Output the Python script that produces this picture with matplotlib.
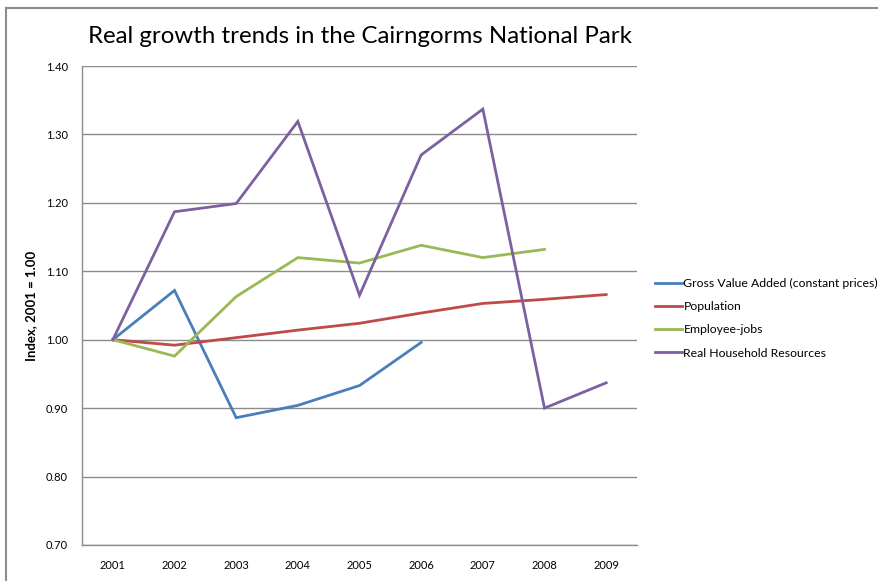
import matplotlib.pyplot as plt
from matplotlib.lines import Line2D

plt.rcParams['font.family'] = ['Lato', 'DejaVu Sans']

years = ['2001', '2002', '2003', '2004', '2005', '2006', '2007', '2008', '2009']
gva = [1.000, 1.072, 0.886, 0.904, 0.933, 0.996]
population = [1.000, 0.992, 1.003, 1.014, 1.024, 1.039, 1.053, 1.059, 1.066]
employee_jobs = [1.000, 0.976, 1.063, 1.120, 1.112, 1.138, 1.120, 1.132]
household = [1.000, 1.187, 1.199, 1.319, 1.065, 1.270, 1.337, 0.900, 0.937]

series = [
    ('Gross Value Added (constant prices)', gva, '#4A7EBB'),
    ('Population', population, '#BE4B48'),
    ('Employee-jobs', employee_jobs, '#98B954'),
    ('Real Household Resources', household, '#7D60A0'),
]

fig = plt.figure(figsize=(8.79, 5.81), dpi=100)
ax = fig.add_axes([0.0933, 0.062, 0.6314, 0.8244])

for label, vals, col in series:
    ax.plot(range(len(vals)), vals, color=col, lw=2.0, label=label,
            solid_joinstyle='miter', zorder=3)

ax.set_xlim(-0.5, len(years) - 0.5)
ax.set_ylim(0.70, 1.40)
ax.set_xticks(range(len(years)))
ax.set_xticklabels(years)
ax.set_yticks([0.70 + 0.1 * i for i in range(8)])
ax.yaxis.set_major_formatter(plt.FormatStrFormatter('%.2f'))
ax.tick_params(length=0, labelsize=8, colors='black')
ax.tick_params(axis='x', pad=11)
ax.tick_params(axis='y', pad=10)
ax.yaxis.grid(True, color='#8c8c8c', lw=1.0)
ax.set_axisbelow(True)
for side in ('top', 'right'):
    ax.spines[side].set_visible(False)
for side in ('left', 'bottom'):
    ax.spines[side].set_color('#8c8c8c')
    ax.spines[side].set_linewidth(1.0)

ax.set_ylabel('Index, 2001 = 1.00', fontsize=9.5, fontweight='bold', labelpad=6)

fig.text(0.41, 0.938, 'Real growth trends in the Cairngorms National Park',
         ha='center', va='center', fontsize=17.3)

ax.legend(loc='upper left', bbox_to_anchor=(0.74, 0.53),
          bbox_transform=fig.transFigure, frameon=False, fontsize=8.8,
          handlelength=2.2, handletextpad=0.1, labelspacing=1.0,
          borderaxespad=0)

# outer chart border (top and left edges)
fig.add_artist(Line2D([6 / 879, 1], [1 - 8 / 581, 1 - 8 / 581],
                      transform=fig.transFigure, color='#8c8c8c', lw=1.5))
fig.add_artist(Line2D([6 / 879, 6 / 879], [0, 1 - 8 / 581],
                      transform=fig.transFigure, color='#8c8c8c', lw=1.5))

fig.savefig('out.png', dpi=100)
